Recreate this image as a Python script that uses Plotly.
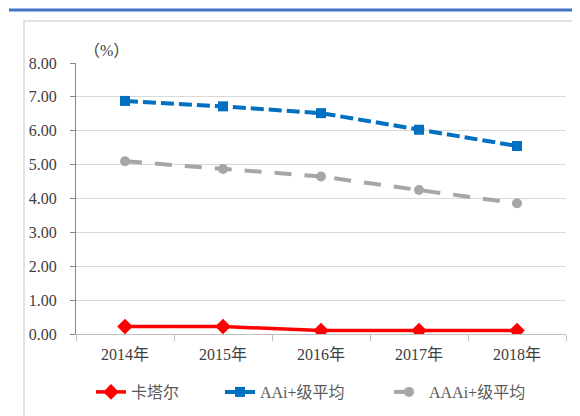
import plotly.graph_objects as go

years = ["2014年", "2015年", "2016年", "2017年", "2018年"]
qatar = [0.22, 0.22, 0.10, 0.10, 0.10]
aai_avg = [6.88, 6.72, 6.52, 6.03, 5.55]
aaai_avg = [5.10, 4.87, 4.65, 4.25, 3.86]
y_ticks = [0, 1, 2, 3, 4, 5, 6, 7, 8]

FONT = "Liberation Serif, Times New Roman, Noto Sans CJK SC, serif"

fig = go.Figure()
fig.add_trace(go.Scatter(x=years, y=qatar, name="卡塔尔", mode="lines+markers",
                         line=dict(color="#FF0000", width=3.5),
                         marker=dict(symbol="diamond", size=12, color="#FF0000"),
                         legendwidth=84))
fig.add_trace(go.Scatter(x=years, y=aai_avg, name="AAi+级平均", mode="lines+markers",
                         line=dict(color="#0070C0", width=4, dash="13px,5px"),
                         marker=dict(symbol="square", size=10, color="#0070C0"),
                         legendwidth=124))
fig.add_trace(go.Scatter(x=years, y=aaai_avg, name="AAAi+级平均", mode="lines+markers",
                         line=dict(color="#A6A6A6", width=4, dash="17px,13px"),
                         marker=dict(symbol="circle", size=10, color="#A6A6A6"),
                         legendwidth=105))

# page offset (browser body margin)
OFF = 8
W, H = 580 - OFF, 416 - OFF
# plot area in page pixels
PX0, PX1, PY0, PY1 = 76, 566, 63, 334
L, R, T, B = PX0 - OFF, W - (PX1 - OFF), PY0 - OFF, H - (PY1 - OFF)
pw, ph = PX1 - PX0, PY1 - PY0

def px(x):
    return (x - PX0) / pw

def py(y):
    return 1 - (y - PY0) / ph

fig.update_layout(
    width=W, height=H,
    margin=dict(l=L, r=R, t=T, b=B, autoexpand=False),
    paper_bgcolor="white", plot_bgcolor="white",
    font=dict(family=FONT, size=16, color="#404040"),
    showlegend=True,
    legend=dict(orientation="h", x=px(91), xanchor="left", y=py(392), yanchor="middle",
                font=dict(size=16, family=FONT, color="#595959"), tracegroupgap=0),
    xaxis=dict(range=[-0.5, 4.5], showgrid=False, showline=True, linecolor="#BFBFBF", linewidth=1,
               ticks="outside", tickson="boundaries", ticklen=6, tickcolor="#BFBFBF",
               ticklabelstandoff=6, tickfont=dict(size=16, family=FONT, color="#404040")),
    yaxis=dict(range=[0, 8], tickvals=y_ticks, tickformat=".2f",
               showgrid=True, gridcolor="#D9D9D9", gridwidth=1,
               showline=True, linecolor="#868686", linewidth=1,
               ticks="outside", ticklen=5, tickcolor="#868686", ticklabelstandoff=10,
               zeroline=False, tickfont=dict(size=16, family=FONT, color="#404040")),
    shapes=[
        dict(type="rect", xref="paper", yref="paper",
             x0=px(24), x1=px(577), y0=py(440), y1=py(21),
             line=dict(color="#D9D9D9", width=1.5), fillcolor="rgba(0,0,0,0)", layer="below"),
        dict(type="line", xref="paper", yref="paper",
             x0=px(9), x1=px(590), y0=py(10), y1=py(10),
             line=dict(color="#4472C4", width=3)),
    ],
    annotations=[
        dict(text="（%）", xref="paper", yref="paper", x=px(106), y=py(50),
             showarrow=False, font=dict(size=16, family=FONT, color="#404040"),
             xanchor="center", yanchor="middle"),
    ],
)

fig.write_html("out.html")
